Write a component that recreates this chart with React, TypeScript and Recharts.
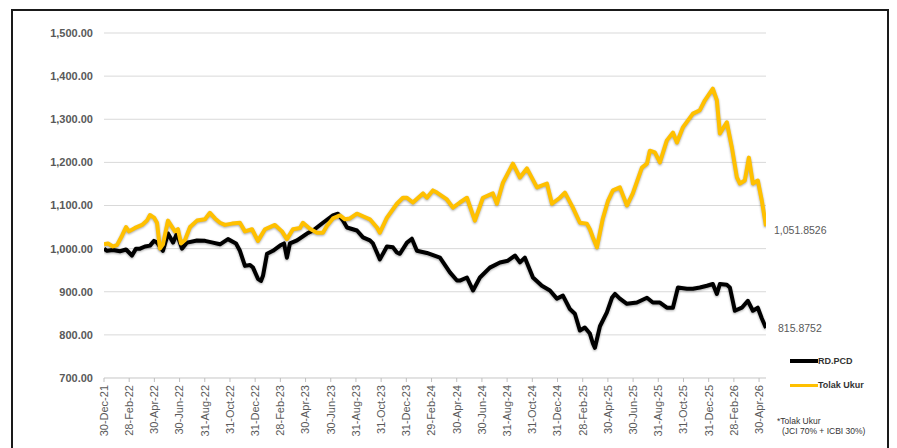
import React from 'react';
import { LineChart, Line, XAxis, YAxis, CartesianGrid, Legend, LabelList } from 'recharts';

const tickMonths = [0, 2, 4, 6, 8, 10, 12, 14, 16, 18, 20, 22, 24, 26, 28, 30, 32, 34, 36, 38, 40, 42, 44, 46, 48, 50, 52];
const tickLabels = [
  '30-Dec-21', '28-Feb-22', '30-Apr-22', '30-Jun-22', '31-Aug-22', '31-Oct-22', '31-Dec-22',
  '28-Feb-23', '30-Apr-23', '30-Jun-23', '31-Aug-23', '31-Oct-23', '31-Dec-23',
  '29-Feb-24', '30-Apr-24', '30-Jun-24', '31-Aug-24', '31-Oct-24', '31-Dec-24',
  '28-Feb-25', '30-Apr-25', '30-Jun-25', '31-Aug-25', '31-Oct-25', '31-Dec-25',
  '28-Feb-26', '30-Apr-26',
];
const yTicks = [700, 800, 900, 1000, 1100, 1200, 1300, 1400, 1500];

// RD.PCD (months since 30-Dec-21)
const rdMonths = [
  0, 0.24, 0.71, 1.27, 1.75, 2.22, 2.54, 2.86, 3.25, 3.65, 3.97, 4.21, 4.68, 5.08, 5.48, 5.79, 6.19, 6.59,
  7.38, 8.02, 8.65, 9.21, 9.84, 10.48, 10.79, 11.19, 11.59, 11.83, 12.22, 12.46, 12.62, 12.94, 13.41, 13.97,
  14.29, 14.52, 14.76, 15.32, 16.11, 16.59, 17.38, 18.17, 18.57, 18.97, 19.29, 20.08, 20.56, 21.11, 21.35,
  21.9, 22.46, 22.94, 23.25, 23.49, 24.05, 24.44, 24.84, 25.63, 26.67, 27.46, 28.02, 28.25, 28.81, 29.29,
  29.84, 30.63, 31.43, 32.06, 32.62, 33.02, 33.41, 34.05, 34.76, 35.4, 35.95, 36.43, 36.98, 37.38, 37.78,
  38.17, 38.57, 38.81, 38.97, 39.37, 39.92, 40.32, 40.56, 40.95, 41.51, 42.3, 43.1, 43.57, 44.13, 44.68,
  45.16, 45.56, 46.27, 46.75, 47.3, 47.86, 48.33, 48.65, 48.89, 49.44, 49.68, 50.08, 50.63, 51.11, 51.51,
  51.9, 52.22, 52.55,
];
const rdValues = [
  1000, 995, 997, 994, 998, 984, 1000, 1000, 1005, 1007, 1018, 1014, 995, 1035, 1014, 1035, 1000, 1014,
  1019, 1018, 1014, 1010, 1022, 1012, 995, 960, 962, 956, 930, 925, 937, 988, 995, 1007,
  1012, 979, 1012, 1019, 1035, 1042, 1060, 1077, 1081, 1065, 1049, 1042, 1026, 1019, 1012,
  975, 1005, 1003, 991, 988, 1014, 1023, 995, 990, 979, 945, 926, 926, 933, 903,
  933, 956, 968, 972, 984, 968, 979, 933, 914, 903, 884, 891, 860, 849, 810,
  817, 803, 780, 770, 820, 852, 886, 895, 884, 872, 875, 886, 875, 875, 863,
  863, 910, 907, 907, 910, 914, 918, 895, 918, 916, 910, 856, 863, 879, 856,
  863, 838, 815.8752,
];

// Tolak Ukur
const tuMonths = [
  0, 0.32, 0.71, 1.03, 1.43, 1.75, 1.98, 2.46, 3.02, 3.41, 3.65, 3.97, 4.21, 4.44, 4.68, 5.08, 5.63, 5.87,
  6.11, 6.43, 6.83, 7.38, 8.02, 8.41, 8.81, 9.21, 9.6, 10.16, 10.79, 11.19, 11.75, 12.22, 12.78, 13.17,
  13.57, 14.13, 14.52, 15.0, 15.56, 15.79, 16.35, 16.9, 17.38, 17.7, 18.17, 18.73, 19.13, 19.52, 20.08,
  20.56, 21.11, 21.67, 21.9, 22.46, 23.25, 23.73, 24.05, 24.52, 25.32, 25.63, 26.11, 26.43, 27.22, 27.7,
  28.25, 28.81, 29.44, 30.08, 30.87, 31.19, 31.67, 32.46, 33.02, 33.57, 34.37, 35.16, 35.56, 36.19, 36.59,
  37.22, 37.78, 38.33, 38.57, 38.81, 39.13, 39.6, 40.0, 40.4, 40.95, 41.51, 41.98, 42.7, 43.1, 43.33,
  43.73, 44.13, 44.68, 45.16, 45.48, 45.95, 46.75, 47.3, 47.7, 48.33, 48.65, 48.89, 49.44, 49.84, 50.24,
  50.48, 50.87, 51.19, 51.51, 51.9, 52.22, 52.55,
];
const tuValues = [
  1010, 1012, 1005, 1008, 1030, 1050, 1040, 1048, 1055, 1065, 1078, 1072, 1060, 1000, 1010, 1065, 1040, 1045,
  1012, 1020, 1050, 1065, 1068, 1083, 1070, 1060, 1055, 1058, 1060, 1040, 1045, 1018, 1045, 1050,
  1055, 1040, 1022, 1045, 1048, 1060, 1046, 1037, 1037, 1053, 1070, 1077, 1068, 1070, 1081,
  1075, 1068, 1049, 1037, 1072, 1104, 1118, 1118, 1107, 1128, 1118, 1135, 1130, 1114, 1095,
  1107, 1118, 1065, 1118, 1128, 1104, 1153, 1197, 1165, 1186, 1142, 1151, 1104, 1118, 1130,
  1095, 1060, 1058, 1045, 1026, 1003, 1070, 1110, 1135, 1142, 1100, 1128, 1188, 1197, 1227,
  1223, 1200, 1251, 1269, 1246, 1281, 1313, 1321, 1344, 1371, 1344, 1267, 1293, 1235, 1165,
  1151, 1158, 1211, 1151, 1158, 1111, 1051.8526,
];

const rdData = rdMonths.map((m, i) => ({ m, v: rdValues[i] }));
const tuData = tuMonths.map((m, i) => ({ m, v: tuValues[i] }));

const GREY = '#595959';
const FONT = '"Liberation Sans", Arial, sans-serif';

const fmtY = (v: number) =>
  v.toLocaleString('en-US', { minimumFractionDigits: 2, maximumFractionDigits: 2 });
const fmtEnd = (v: number) =>
  v.toLocaleString('en-US', { minimumFractionDigits: 4, maximumFractionDigits: 4 });

const XTick = (props: any) => {
  const { x, y, payload } = props;
  const idx = tickMonths.indexOf(payload.value);
  const label = idx >= 0 ? tickLabels[idx] : '';
  return (
    <text
      transform={`translate(${x},${y}) rotate(-90)`}
      textAnchor="end"
      dy="0.35em"
      fill={GREY}
      fontSize={11}
      fontFamily={FONT}
    >
      {label}
    </text>
  );
};

const makeEndLabel = (lastIndex: number, dx: number, dy: number) => (props: any) => {
  const { x, y, index, value } = props;
  if (index !== lastIndex) return null;
  return (
    <text x={x + dx} y={y + dy} fill={GREY} fontSize={10.5} fontFamily={FONT} dominantBaseline="middle">
      {fmtEnd(Number(value))}
    </text>
  );
};

const LegendContent = () => (
  <div style={{ position: 'relative', width: 115, height: 90, fontFamily: FONT }}>
    <div style={{ position: 'absolute', left: 14, top: 7, width: 28, height: 4, background: '#000' }} />
    <div style={{ position: 'absolute', left: 42, top: 3, fontSize: 9, fontWeight: 700, color: '#333', lineHeight: '12px' }}>
      RD.PCD
    </div>
    <div style={{ position: 'absolute', left: 14, top: 32, width: 28, height: 3, background: '#FFC000' }} />
    <div style={{ position: 'absolute', left: 42, top: 27, fontSize: 9, fontWeight: 700, color: '#333', lineHeight: '12px' }}>
      Tolak Ukur
    </div>
    <div style={{ position: 'absolute', left: 1, top: 64, fontSize: 8.5, color: '#333', lineHeight: '11px', whiteSpace: 'nowrap' }}>
      *Tolak Ukur
    </div>
    <div style={{ position: 'absolute', left: 6, top: 74, fontSize: 8.5, color: '#333', lineHeight: '11px', whiteSpace: 'nowrap' }}>
      (JCI 70% + ICBI 30%)
    </div>
  </div>
);

export default function App() {
  return (
    <div
      style={{
        position: 'fixed',
        left: 0,
        top: 0,
        width: 897,
        height: 448,
        overflow: 'hidden',
        background: '#fff',
      }}
    >
      <style>{`.recharts-line .recharts-curve { filter: drop-shadow(0.8px 1.2px 1px rgba(0,0,0,0.35)); }`}</style>
      <div
        style={{
          position: 'absolute',
          left: 11,
          top: 9,
          width: 874,
          height: 470,
          border: '2px solid #1a1a1a',
        }}
      />
      <div style={{ position: 'absolute', left: 0, top: 0 }}>
        <LineChart width={897} height={448} margin={{ top: 33, right: 131, bottom: 0, left: 0 }}>
          <CartesianGrid vertical={false} stroke="#d9d9d9" strokeWidth={1} />
          <XAxis
            dataKey="m"
            type="number"
            domain={[0, 52.55]}
            ticks={tickMonths}
            interval={0}
            height={70}
            tick={<XTick />}
            tickSize={4}
            tickMargin={3}
            axisLine={{ stroke: '#d9d9d9' }}
            tickLine={{ stroke: '#bfbfbf' }}
            allowDataOverflow
          />
          <YAxis
            type="number"
            domain={[700, 1500]}
            ticks={yTicks}
            width={104}
            tickFormatter={fmtY}
            axisLine={false}
            tickLine={false}
            tickSize={0}
            tickMargin={11}
            tick={{ fill: GREY, fontSize: 11, fontWeight: 700, fontFamily: FONT }}
          />
          <Line
            data={rdData}
            dataKey="v"
            name="RD.PCD"
            stroke="#000000"
            strokeWidth={4}
            dot={false}
            strokeLinejoin="round"
            isAnimationActive={false}
          >
            <LabelList dataKey="v" content={makeEndLabel(rdData.length - 1, 12, 1)} />
          </Line>
          <Line
            data={tuData}
            dataKey="v"
            name="Tolak Ukur"
            stroke="#FFC000"
            strokeWidth={4}
            dot={false}
            strokeLinejoin="round"
            isAnimationActive={false}
          >
            <LabelList dataKey="v" content={makeEndLabel(tuData.length - 1, 8, 5)} />
          </Line>
          <Legend
            layout="horizontal"
            verticalAlign="middle"
            align="center"
            content={<LegendContent />}
            wrapperStyle={{ position: 'absolute', left: 776, top: 352, width: 115, height: 90 }}
          />
        </LineChart>
      </div>
    </div>
  );
}
